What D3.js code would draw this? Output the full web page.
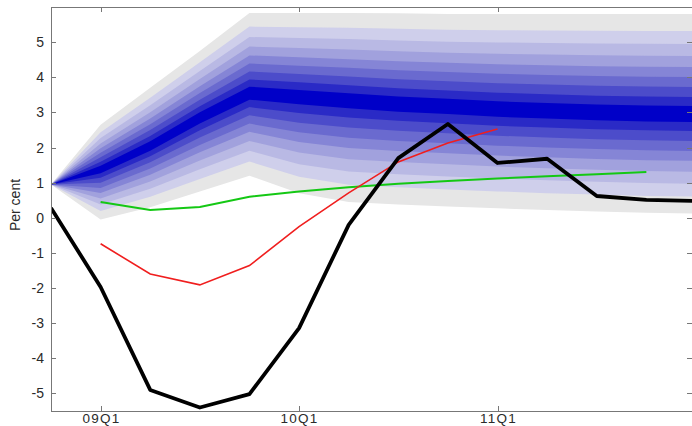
<!DOCTYPE html>
<html>
<head>
<meta charset="utf-8">
<script src="https://cdn.jsdelivr.net/npm/d3@7"></script>
<style>
  body { margin: 0; background: #fff; }
  text { font-family: "Liberation Sans", Arial, sans-serif; fill: #2a2a2a; }
</style>
</head>
<body>
<svg id="chart" width="692" height="426"></svg>
<script>
// quarters along the x axis (index 0 = left edge)
const quarters = ["08Q4", "09Q1", "09Q2", "09Q3", "09Q4", "10Q1", "10Q2", "10Q3",
  "10Q4", "11Q1", "11Q2", "11Q3", "11Q4", "12Q1"];
const tickLabels = ["09Q1", "10Q1", "11Q1"];
const yTicks = [-5, -4, -3, -2, -1, 0, 1, 2, 3, 4, 5];

// fan: central path and outer bounds
const fanMid = [0.95, 1.38, 2.05, 2.85, 3.55, 3.45, 3.35, 3.25, 3.18, 3.1, 3.05, 3.0, 2.97, 2.95];
const fanHigh = [0.95, 2.65, 3.7, 4.75, 5.83, 5.83, 5.83, 5.82, 5.8, 5.8, 5.8, 5.8, 5.8, 5.8];
const fanLow = [0.95, -0.05, 0.3, 0.75, 1.2, 0.7, 0.45, 0.38, 0.32, 0.27, 0.22, 0.18, 0.14, 0.12];
// share of the outer width covered by each band, outermost first
const bandShares = [1.0, 0.83, 0.70, 0.58, 0.47, 0.37, 0.27, 0.17, 0.08];
const bandColors = ["#e6e6e6", "#cfcfeb", "#b9b9e4", "#a1a1dd", "#8585d6",
  "#6a6acf", "#4c4cca", "#2a2ac6", "#0000c8"];

// lines
const outturn = [0.28, -1.97, -4.9, -5.4, -5.02, -3.14, -0.2, 1.7, 2.67, 1.56, 1.68, 0.62, 0.51, 0.48];
const redSeries = [-0.74, -1.6, -1.91, -1.36, -0.25, 0.71, 1.59, 2.13, 2.53]; // 09Q1..11Q1
const greenSeries = [0.45, 0.22, 0.31, 0.6, 0.75, 0.87, 0.97, 1.05, 1.12, 1.18, 1.24, 1.3]; // 09Q1..11Q4

const svg = d3.select("#chart");
const mLeft = 51, mRight = 692, mTop = 7, mBottom = 411;

const x = d3.scaleLinear().domain([0, 12.92]).range([mLeft, mRight]);
const y = d3.scaleLinear().domain([-5.5, 6]).range([mBottom, mTop]);

svg.append("clipPath").attr("id", "plotclip")
  .append("rect")
    .attr("x", mLeft).attr("y", mTop)
    .attr("width", mRight - mLeft).attr("height", mBottom - mTop);

const plot = svg.append("g").attr("clip-path", "url(#plotclip)");

// fan bands, outer ones first
bandShares.forEach((s, k) => {
  const area = d3.area()
    .x((d, i) => x(i))
    .y0((d, i) => y(fanMid[i] - s * (fanMid[i] - fanLow[i])))
    .y1((d, i) => y(fanMid[i] + s * (fanHigh[i] - fanMid[i])));
  plot.append("path")
    .datum(fanMid)
    .attr("d", area)
    .attr("fill", bandColors[k]);
});

const line = d3.line().x(d => x(d[0])).y(d => y(d[1]));

plot.append("path")
  .datum(greenSeries.map((v, i) => [i + 1, v]))
  .attr("d", line)
  .attr("fill", "none")
  .attr("stroke", "#14c814")
  .attr("stroke-width", 2);

plot.append("path")
  .datum(redSeries.map((v, i) => [i + 1, v]))
  .attr("d", line)
  .attr("fill", "none")
  .attr("stroke", "#f01e1e")
  .attr("stroke-width", 1.6);

plot.append("path")
  .datum(outturn.map((v, i) => [i, v]))
  .attr("d", line)
  .attr("fill", "none")
  .attr("stroke", "#000")
  .attr("stroke-width", 3.8)
  .attr("stroke-linejoin", "round");

// box and ticks
const axisColor = "#777";
svg.append("rect")
  .attr("x", mLeft + 0.5).attr("y", mTop + 0.5)
  .attr("width", mRight - mLeft).attr("height", mBottom - mTop)
  .attr("fill", "none")
  .attr("stroke", axisColor);

yTicks.forEach(v => {
  const yy = Math.round(y(v)) + 0.5;
  svg.append("line")
    .attr("x1", mLeft).attr("x2", mLeft + 5)
    .attr("y1", yy).attr("y2", yy)
    .attr("stroke", axisColor);
  svg.append("line")
    .attr("x1", mRight - 5).attr("x2", mRight)
    .attr("y1", yy).attr("y2", yy)
    .attr("stroke", axisColor);
  svg.append("text")
    .attr("x", mLeft - 7)
    .attr("y", y(v) + 5)
    .attr("text-anchor", "end")
    .attr("font-size", 14)
    .text(v);
});

tickLabels.forEach(lab => {
  const xx = Math.round(x(quarters.indexOf(lab))) + 0.5;
  svg.append("line")
    .attr("x1", xx).attr("x2", xx)
    .attr("y1", mBottom).attr("y2", mBottom - 5)
    .attr("stroke", axisColor);
  svg.append("line")
    .attr("x1", xx).attr("x2", xx)
    .attr("y1", mTop).attr("y2", mTop + 5)
    .attr("stroke", axisColor);
  svg.append("text")
    .attr("x", xx)
    .attr("y", 423)
    .attr("text-anchor", "middle")
    .attr("font-size", 13.5)
    .attr("letter-spacing", 1.2)
    .text(lab);
});

svg.append("text")
  .attr("transform", "translate(20,205) rotate(-90)")
  .attr("text-anchor", "middle")
  .attr("font-size", 14)
  .text("Per cent");
</script>
</body>
</html>
